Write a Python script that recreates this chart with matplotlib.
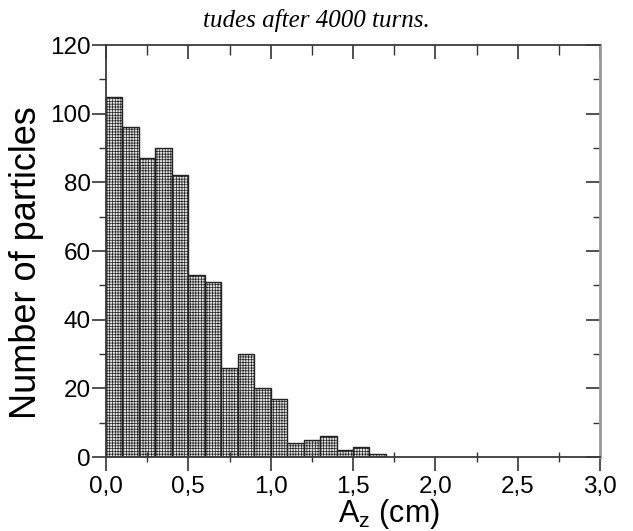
import matplotlib
matplotlib.use("Agg")
import matplotlib.pyplot as plt
from matplotlib import lines as mlines
import numpy as np

bin_edges = [0.0, 0.1, 0.2, 0.3, 0.4, 0.5, 0.6, 0.7, 0.8, 0.9, 1.0,
             1.1, 1.2, 1.3, 1.4, 1.5, 1.6, 1.7]
counts = [105, 96, 87, 90, 82, 53, 51, 26, 30, 20, 17, 4, 5, 6, 2, 3, 1]
xticks = [0.0, 0.5, 1.0, 1.5, 2.0, 2.5, 3.0]
xticklabels = ["0,0", "0,5", "1,0", "1,5", "2,0", "2,5", "3,0"]
yticks = [0, 20, 40, 60, 80, 100, 120]

plt.rcParams['font.family'] = ['Liberation Sans', 'DejaVu Sans']
plt.rcParams['hatch.color'] = '#a4a4a4'
plt.rcParams['hatch.linewidth'] = 0.5

W, H = 633, 531
fig = plt.figure(figsize=(6.33, 5.31), dpi=100)
ax = fig.add_axes([106 / W, (H - 457) / H, 494 / W, 412 / H])

lefts = np.array(bin_edges[:-1])
widths = np.diff(bin_edges)
ax.bar(lefts, counts, width=widths, align='edge', facecolor='#e2e2e2',
       edgecolor='#222222', linewidth=1.0, hatch='++++++')

ax.set_xlim(0, 3.0)
ax.set_ylim(0, 120)
ax.set_xticks(xticks)
ax.set_xticklabels(xticklabels)
ax.set_yticks(yticks)
ax.set_xticks(np.arange(0.25, 3.0, 0.5), minor=True)
ax.set_yticks(np.arange(10, 120, 20), minor=True)

for s in ax.spines.values():
    s.set_linewidth(1.3)
    s.set_color('#3a3a3a')
ax.spines['right'].set_color('#9a9a9a')
ax.spines['right'].set_linewidth(2.0)

ax.tick_params(axis='both', which='major', direction='out', length=10, width=1.2,
               labelsize=17.5, colors='#333333', labelcolor='black')
ax.tick_params(axis='both', which='minor', direction='out', length=5, width=1.0,
               colors='#333333')
ax.tick_params(axis='x', which='minor', direction='inout', length=7)
ax.tick_params(axis='x', which='major', pad=4)
ax.tick_params(axis='y', which='major', pad=1)
ax.tick_params(top=True, right=True, which='both')

# top/right ticks point inward
for tick in ax.xaxis.get_major_ticks() + ax.xaxis.get_minor_ticks():
    tick.tick2line.set_marker(mlines.TICKDOWN)
for tick in ax.yaxis.get_major_ticks() + ax.yaxis.get_minor_ticks():
    tick.tick2line.set_marker(mlines.TICKLEFT)

fig.text(27 / W, 1 - 263 / H, "Number of particles", rotation=90,
         ha='center', va='center', fontsize=26)
fig.text(389 / W, (H - 522) / H, r"A$_\mathregular{z}$ (cm)", ha='center',
         va='baseline', fontsize=22)

fig.text(316 / W, (H - 27) / H, "tudes after 4000 turns.", ha='center',
         va='baseline', fontsize=18, style='italic',
         family=['Liberation Serif', 'DejaVu Serif'])

fig.savefig("out.png", dpi=100)
